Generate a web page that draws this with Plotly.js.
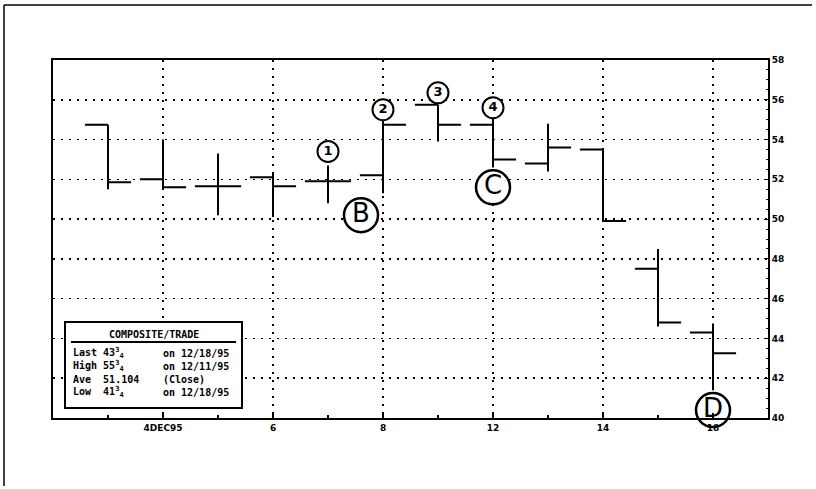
<!DOCTYPE html>
<html>
<head>
<meta charset="utf-8">
<script src="https://cdn.plot.ly/plotly-3.0.1.min.js"></script>
<style>html,body{margin:0;padding:0;background:#fff}#chart{width:816px;height:489px}</style>
</head>
<body>
<div id="chart"></div>
<script>
// ---- data ----
const dates = ['1DEC95','4DEC95','5DEC95','6DEC95','7DEC95','8DEC95','11DEC95','12DEC95','13DEC95','14DEC95','15DEC95','18DEC95'];
const openV  = [54.75, 52.0, 51.65, 52.1, 51.9, 52.2, 55.75, 54.75, 52.8, 53.5, 47.5, 44.3];
const highV  = [54.75, 54.0, 53.3, 52.3, 52.7, 55.2, 55.75, 55.1, 54.8, 53.5, 48.5, 44.75];
const lowV   = [51.5, 51.5, 50.2, 50.1, 50.8, 51.3, 53.9, 52.6, 52.4, 49.9, 44.6, 41.4];
const closeV = [51.85, 51.6, 51.65, 51.65, 51.9, 54.75, 54.75, 53.0, 53.6, 49.9, 44.8, 43.25];

const tickDates  = ['4DEC95','6DEC95','8DEC95','12DEC95','14DEC95','18DEC95'];
const tickLabels = ['4DEC95','6','8','12','14','18'];
const yTicks = [40,42,44,46,48,50,52,54,56,58];

// chart callouts: position (trading-day index), price level, label
const calloutX    = [4, 5, 6, 7];
const calloutY    = [53.4, 55.5, 56.35, 55.6];
const calloutText = ['1','2','3','4'];
const bigX    = [4.6, 7, 11];
const bigY    = [50.2, 51.6, 40.4];
const bigText = ['B','C','D'];

const legendTitle = 'COMPOSITE/TRADE';
const legendCol1 = ['Last 43<sup>3</sup><sub>4</sub>','High 55<sup>3</sup><sub>4</sub>','Ave  51.104','Low  41<sup>3</sup><sub>4</sub>'];
const legendCol2 = ['on 12/18/95','on 12/11/95','(Close)','on 12/18/95'];

// ---- build ----
const xIdx = dates.map((d,i)=>i);
const tickVals = tickDates.map(d=>dates.indexOf(d));

const traces = [
  {
    type:'ohlc', x:xIdx, open:openV, high:highV, low:lowV, close:closeV,
    increasing:{line:{color:'#000',width:2}},
    decreasing:{line:{color:'#000',width:2}},
    tickwidth:0.42, hoverinfo:'skip', showlegend:false
  },
  {
    type:'scatter', mode:'markers+text', x:calloutX, y:calloutY, text:calloutText,
    textposition:'middle center',
    textfont:{family:'DejaVu Sans', size:13, color:'#000', weight:'bold'},
    marker:{symbol:'circle', size:21, color:'#fff', line:{color:'#000', width:2}},
    showlegend:false, hoverinfo:'skip', cliponaxis:false
  },
  {
    type:'scatter', mode:'markers+text', x:bigX, y:bigY, text:bigText,
    textposition:'middle center',
    textfont:{family:'DejaVu Sans', size:26, color:'#000'},
    marker:{symbol:'circle', size:34, color:'#fff', line:{color:'#000', width:2.5}},
    showlegend:false, hoverinfo:'skip', cliponaxis:false
  }
];

const W = 715, H = 358, L = 53, B = 418;
const px = v => (v - L)/W;
const py = v => (B - v)/H;

const annotations = [];
const lf = {family:'DejaVu Sans Mono', size:10, color:'#000', weight:'bold'};
annotations.push({xref:'paper', yref:'paper', x:(px(65)+px(242))/2, y:py(334), text:legendTitle,
  showarrow:false, xanchor:'center', yanchor:'middle', font:lf});
const rowY = [353, 366, 379, 392];
legendCol1.forEach((t,i)=>annotations.push({xref:'paper', yref:'paper', x:px(71), y:py(rowY[i]), text:t,
  showarrow:false, xanchor:'left', yanchor:'middle', font:lf}));
legendCol2.forEach((t,i)=>annotations.push({xref:'paper', yref:'paper', x:px(161), y:py(rowY[i]), text:t,
  showarrow:false, xanchor:'left', yanchor:'middle', font:lf}));

const shapes = [
  {type:'rect', xref:'paper', yref:'paper', x0:px(65), x1:px(242), y0:py(408), y1:py(322),
   line:{color:'#000', width:2}, fillcolor:'#fff', layer:'above'},
  {type:'line', xref:'paper', yref:'paper', x0:px(71), x1:px(236), y0:py(342), y1:py(342),
   line:{color:'#000', width:2}, layer:'above'},
  // outer page frame
  {type:'line', xref:'paper', yref:'paper', x0:px(4), x1:px(812), y0:py(5), y1:py(5), line:{color:'#000', width:1.5}},
  {type:'line', xref:'paper', yref:'paper', x0:px(4), x1:px(4), y0:py(5), y1:py(486), line:{color:'#000', width:1.5}}
];

const layout = {
  width:816, height:489,
  margin:{l:53, r:48, t:60, b:71},
  paper_bgcolor:'#fff', plot_bgcolor:'#fff',
  showlegend:false,
  xaxis:{
    type:'linear', range:[-1, 12], tickmode:'array', tickvals:tickVals, ticktext:tickLabels,
    showgrid:true, gridcolor:'#000', gridwidth:1.5, griddash:'1.5px,6.5px',
    showline:true, linecolor:'#000', linewidth:2, mirror:true,
    ticks:'inside', ticklen:5, tickcolor:'#000', tickwidth:1.5,
    minor:{tickmode:'linear', tick0:0, dtick:1, ticks:'inside', ticklen:3, tickcolor:'#000', showgrid:false},
    zeroline:false, rangeslider:{visible:false},
    tickfont:{family:'DejaVu Sans', size:9, color:'#000', weight:'bold'},
    fixedrange:true
  },
  yaxis:{
    side:'right', range:[40, 58], tickmode:'array', tickvals:yTicks,
    showgrid:true, gridcolor:'#000', gridwidth:1.5, griddash:'1.5px,6.5px',
    showline:true, linecolor:'#000', linewidth:2, mirror:true,
    ticks:'inside', ticklen:4, tickcolor:'#000',
    minor:{dtick:0.5, ticks:'inside', ticklen:2, tickcolor:'#000', showgrid:false},
    zeroline:false,
    tickfont:{family:'DejaVu Sans', size:9, color:'#000', weight:'bold'},
    fixedrange:true
  },
  annotations:annotations,
  shapes:shapes
};

Plotly.newPlot('chart', traces, layout, {staticPlot:true, displayModeBar:false});
</script>
</body>
</html>
